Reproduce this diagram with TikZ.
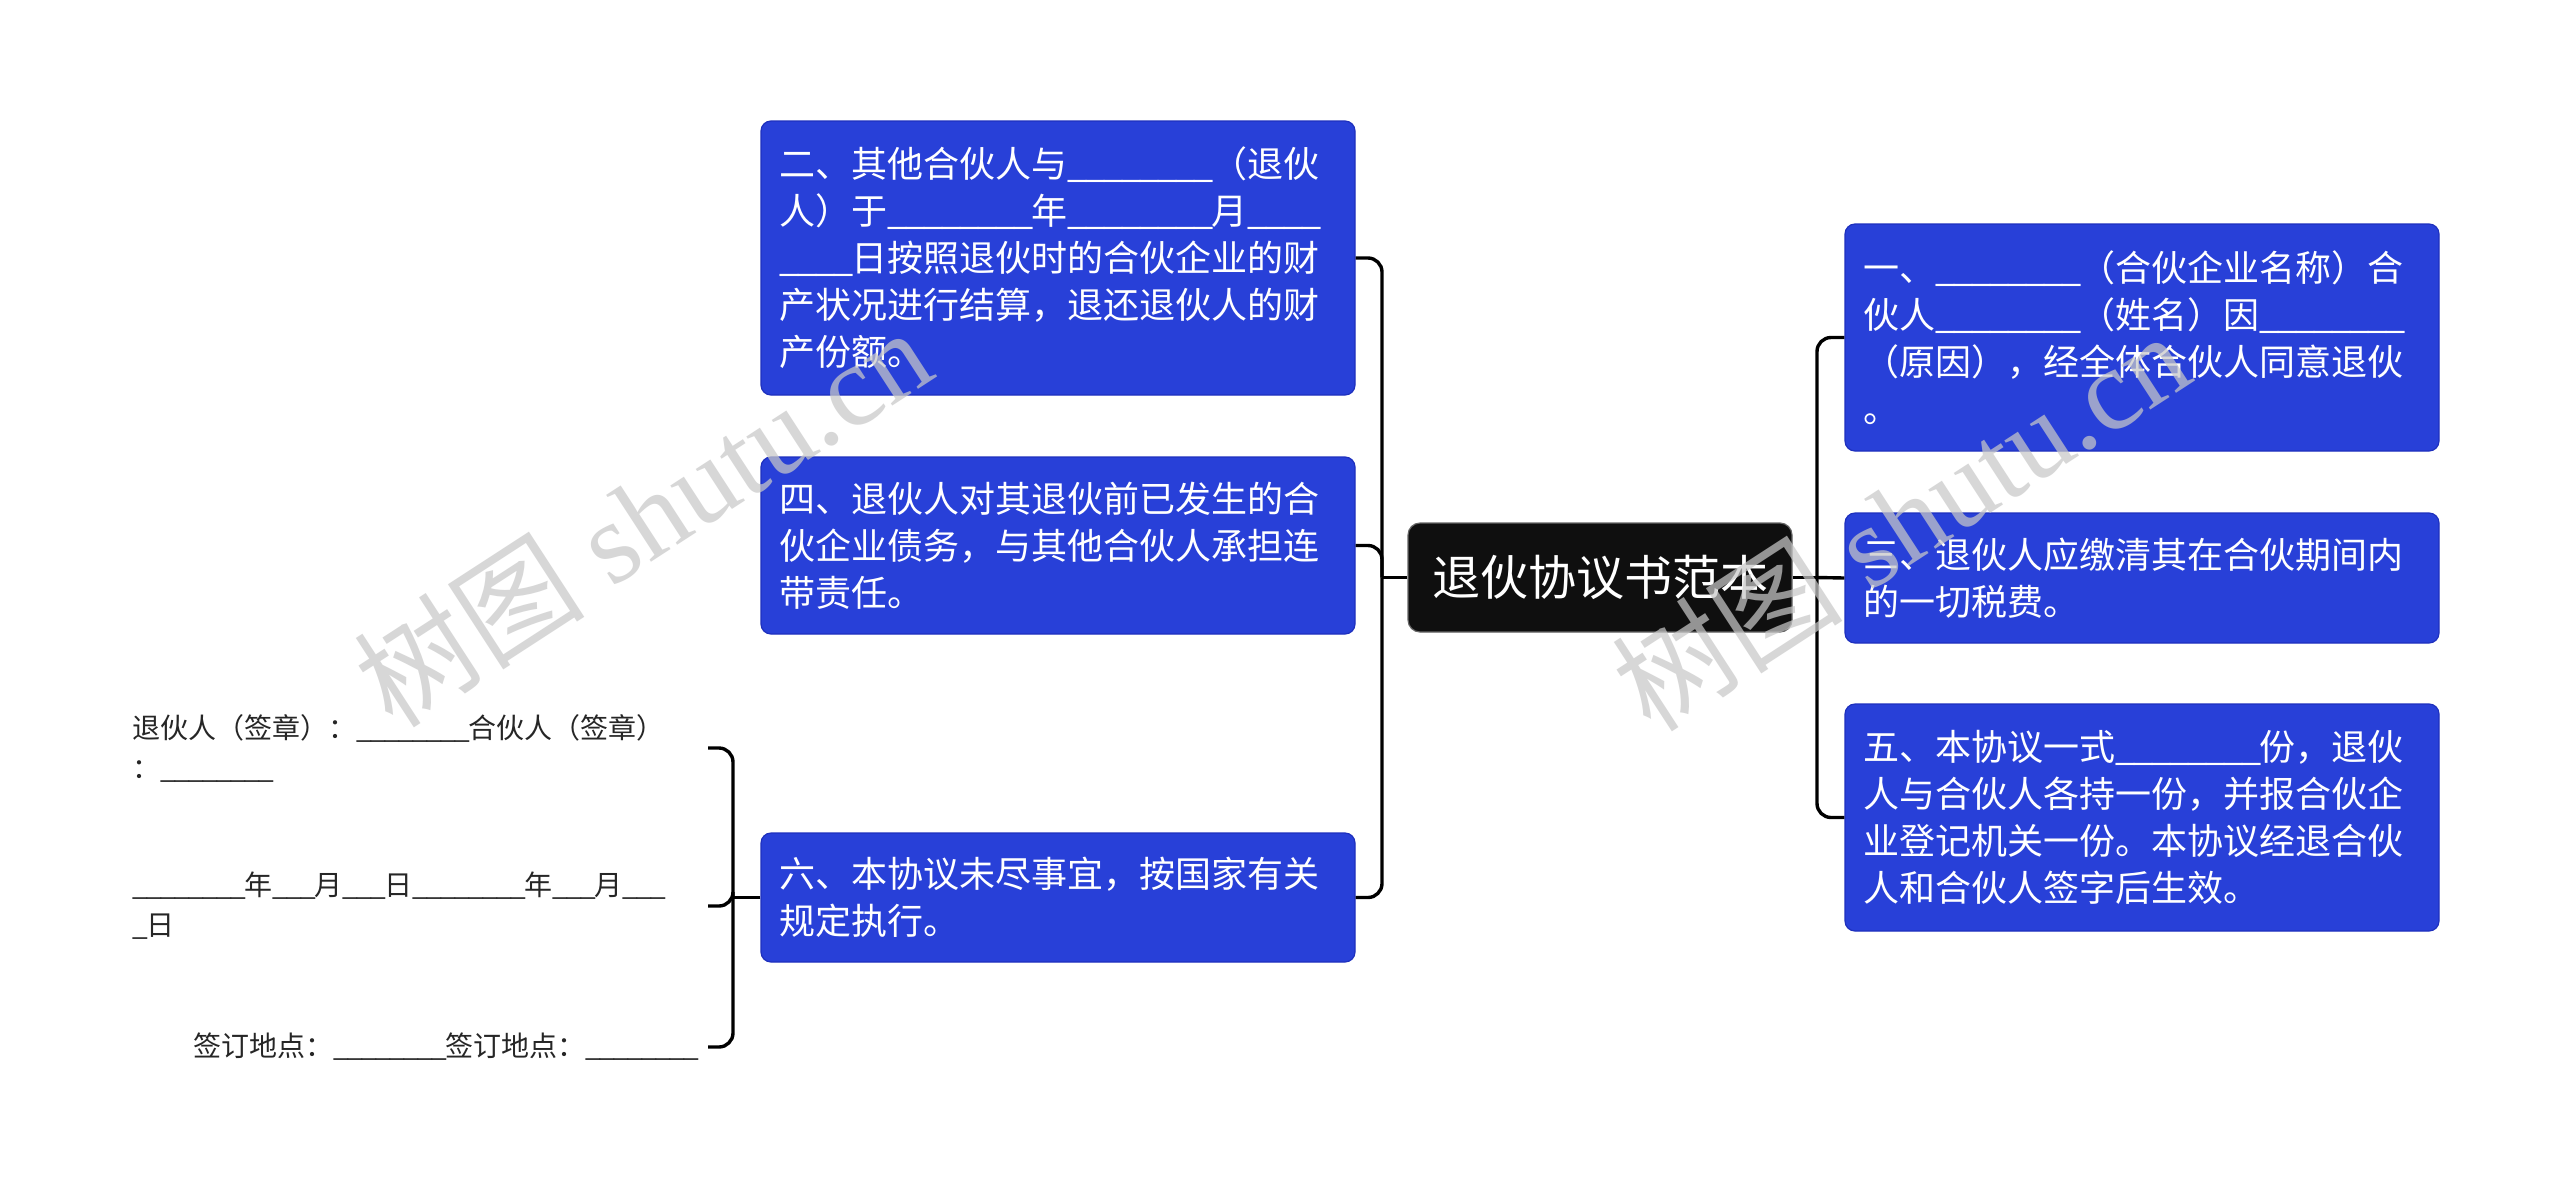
\documentclass[tikz,border=0pt]{standalone}
\usepackage{fontspec}
\newfontfamily\cjk{Noto Sans CJK SC}
\newfontfamily\wmlatin{Liberation Serif}
\definecolor{boxblue}{RGB}{40,64,216}
\definecolor{boxedge}{RGB}{30,48,190}
\definecolor{rootbg}{RGB}{15,15,15}
\definecolor{wmgray}{RGB}{200,200,200}
\newcommand\us{\makebox[0.5em][l]{\_}}
\newcommand\ueight{\us\us\us\us\us\us\us\us}
\newcommand\ufour{\us\us\us\us}
\newcommand\uthree{\us\us\us}
\begin{document}
\begin{tikzpicture}[x=0.5pt,y=-0.5pt,
  leaf/.style={draw=boxedge, line width=0.6pt, fill=boxblue, rounded corners=5pt,
    text=white, font=\cjk\fontsize{18}{23.5}\selectfont, align=left,
    text width=279pt, inner xsep=9pt, inner ysep=0pt, minimum height=#1, anchor=center},
  rootbox/.style={draw=black!60, line width=0.6pt, fill=rootbg, rounded corners=6pt,
    text=white, font=\cjk\fontsize{24}{28}\selectfont,
    minimum width=192pt, minimum height=54.5pt, inner sep=0pt},
  sig/.style={font=\cjk\fontsize{14}{20}\selectfont, text=black!85, align=left, inner sep=0pt},
  conn/.style={draw=black, line width=1.7pt, rounded corners=7pt},
  wm/.style={rotate=33, text=wmgray, text opacity=0.72, font=\wmlatin\fontsize{58}{66}\selectfont, inner sep=0pt}
]
\fill[white] (0,0) rectangle (2560,1200);
\useasboundingbox (0,0) rectangle (2560,1200);

% root
\node[rootbox] (root) at (1600,577.5) {退伙协议书范本};

% left children
\node[leaf=137pt] (b2) at (1058,258) {二、其他合伙人与\ueight（退伙\\人）于\ueight 年\ueight 月\ufour\\\ufour 日按照退伙时的合伙企业的财\\产状况进行结算，退还退伙人的财\\产份额。};
\node[leaf=88.5pt] (b4) at (1058,545.5) {四、退伙人对其退伙前已发生的合\\伙企业债务，与其他合伙人承担连\\带责任。};
\node[leaf=64.5pt] (b6) at (1058,897.5) {六、本协议未尽事宜，按国家有关\\规定执行。};

% right children
\node[leaf=113.5pt] (b1) at (2142,337.5) {一、\ueight（合伙企业名称）合\\伙人\ueight（姓名）因\ueight\\（原因），经全体合伙人同意退伙\\。};
\node[leaf=65pt] (b3) at (2142,578) {三、退伙人应缴清其在合伙期间内\\的一切税费。};
\node[leaf=113.5pt] (b5) at (2142,817.5) {五、本协议一式\ueight 份，退伙\\人与合伙人各持一份，并报合伙企\\业登记机关一份。本协议经退合伙\\人和合伙人签字后生效。};

% signature texts
\node[sig, text width=287.5pt, anchor=east] (t1) at (708,748) {退伙人（签章）：\ueight 合伙人（签章）\\：\ueight};
\node[sig, text width=287.5pt, anchor=east] (t2) at (708,906) {\ueight 年\uthree 月\uthree 日\ueight 年\uthree 月\uthree\\\us 日};
\node[sig, anchor=east, inner xsep=5pt] (t3) at (708,1047) {签订地点：\ueight 签订地点：\ueight};

% connectors
\coordinate (lj) at (1382,577.5);
\coordinate (rj) at (1817,577.5);
\coordinate (bj) at (733,897.5);
\draw[conn] (root.west) -- (lj);
\draw[conn] (lj) |- (b2.east);
\draw[conn] (lj) |- (b4.east);
\draw[conn] (lj) |- (b6.east);
\draw[conn] (root.east) -- (rj);
\draw[conn] (rj) |- (b1.west);
\draw[conn] (rj) -- (b3.west);
\draw[conn] (rj) |- (b5.west);
\draw[conn] (b6.west) -- (bj);
\draw[conn] (bj) |- (t1.east);
\draw[conn] (bj) |- (t2.east);
\draw[conn] (bj) |- (t3.east);

% watermarks
\node[wm] (wm1) at (642,516) {{\cjk 树图} shutu.cn};
\node[wm] (wm2) at (1900,520) {{\cjk 树图} shutu.cn};
\end{tikzpicture}
\end{document}
